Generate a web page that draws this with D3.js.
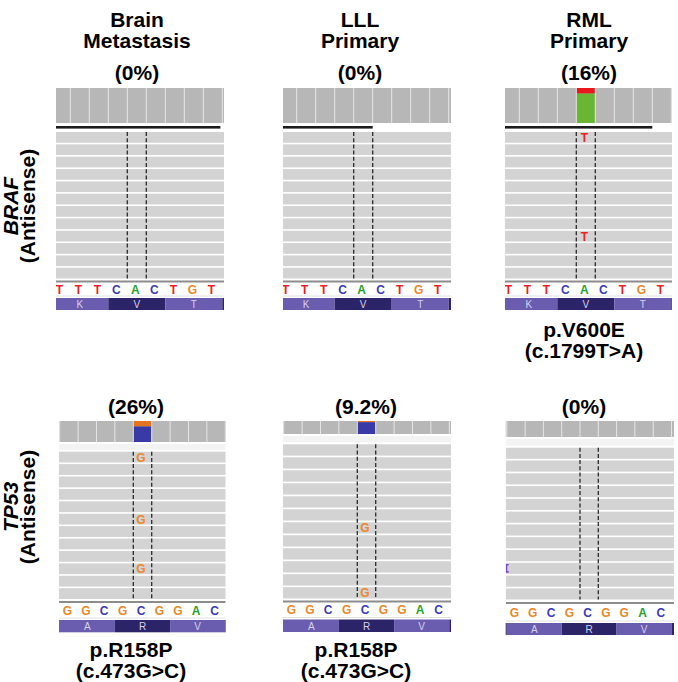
<!DOCTYPE html>
<html>
<head>
<meta charset="utf-8">
<script src="https://cdn.jsdelivr.net/npm/d3@7"></script>
<style>
  html, body { margin: 0; padding: 0; background: #fff; }
  svg { display: block; }
  text { font-family: "Liberation Sans", Arial, Helvetica, sans-serif; }
</style>
</head>
<body>
<svg id="chart" width="678" height="682"></svg>
<script>
// ---------------- DATA ----------------
const headerLines = [["Brain", "Metastasis"], ["LLL", "Primary"], ["RML", "Primary"]];
const genes = ["BRAF", "TP53"];
const strandLabel = "(Antisense)";

const brafRef = ["T", "T", "T", "C", "A", "C", "T", "G", "T"];
const tp53Ref = ["G", "G", "C", "G", "C", "G", "G", "A", "C"];
const brafCodons = ["K", "V", "T"];
const tp53Codons = ["A", "R", "V"];

const variantIndex = 4;              // reference base at the variant site
const brafRefBase = "A", brafAltBase = "T";
const tp53RefBase = "C", tp53AltBase = "G";

const brafAltFrac = [0, 0, 0.16];
const brafAFLabels = ["(0%)", "(0%)", "(16%)"];
const tp53AltFrac = [0.26, 0.092, 0];
const tp53AFLabels = ["(26%)", "(9.2%)", "(0%)"];

const brafDepth = [1, 1, 1];          // relative coverage
const tp53Depth = [1, 0.62, 0.76];

const brafDownsampleEnd = [8.9, 5.0, 8.0];   // in base units
const readCount = 12;
const brafMismatchRows = [[], [], [0, 8]];
const tp53MismatchRows = [[0, 5, 9], [6, 11], []];
const tp53InsertionRows = [[], [], [9]];

const brafProtein = [null, null, ["p.V600E", "(c.1799T>A)"]];
const tp53Protein = [["p.R158P", "(c.473G>C)"], ["p.R158P", "(c.473G>C)"], null];

// ---------------- STYLE / LAYOUT ----------------
const baseColor = { A: "#25a32a", C: "#3b3bb8", G: "#e8882a", T: "#ec2024" };
const covColor = { A: "#6bb534", C: "#3a3aa6", G: "#e3731f", T: "#e8181c" };
const covGrey = "#b7b7b7", readGrey = "#d3d3d3";
const aaLight = "#6a5cae", aaDark = "#2b2468";

const panelX = {
  BRAF: [
    { clipL: 56, clipR: 224, x0: 51.3, w: 19 },
    { clipL: 283, clipR: 451, x0: 277.7, w: 19 },
    { clipL: 505, clipR: 672, x0: 500.3, w: 19 }
  ],
  TP53: [
    { clipL: 59, clipR: 225.7, x0: 59.7, w: 18.4 },
    { clipL: 283, clipR: 451, x0: 283.7, w: 18.4 },
    { clipL: 505.7, clipR: 674, x0: 506.8, w: 18.3 }
  ]
};
const panelY = {
  BRAF: [0, 1, 2].map(() => ({ covTop: 88, covH: 35, barY: 126, readsTop: 132, readsBot: 278.5, lineY: 281.5, seqY: 290, aaTop: 298, aaH: 12 })),
  TP53: [
    { covTop: 421, covH: 21, readsTop: 451.7, readsBot: 599, lineY: 602, seqY: 611, aaTop: 620, aaH: 12.3 },
    { covTop: 421, covH: 21, readsTop: 444.3, readsBot: 598.5, lineY: 601.5, seqY: 610, aaTop: 619.5, aaH: 12.5 },
    { covTop: 421, covH: 21, readsTop: 447.7, readsBot: 599.5, lineY: 603, seqY: 613, aaTop: 623, aaH: 12 }
  ]
};

const svg = d3.select("#chart");
const defs = svg.append("defs");

const geneData = {
  BRAF: { ref: brafRef, codons: brafCodons, refBase: brafRefBase, altBase: brafAltBase, altFrac: brafAltFrac,
          afLabels: brafAFLabels, depth: brafDepth, downs: brafDownsampleEnd, mism: brafMismatchRows,
          ins: [[], [], []], protein: brafProtein },
  TP53: { ref: tp53Ref, codons: tp53Codons, refBase: tp53RefBase, altBase: tp53AltBase, altFrac: tp53AltFrac,
          afLabels: tp53AFLabels, depth: tp53Depth, downs: null, mism: tp53MismatchRows,
          ins: tp53InsertionRows, protein: tp53Protein }
};

const afLabelX = { BRAF: [137, 360, 589], TP53: [136, 366, 584] };
const afLabelY = { BRAF: 80, TP53: 414 };
const protX = { BRAF: [137, 360, 584], TP53: [131, 356, 584] };
const protY = { BRAF: 337, TP53: 657 };

// Column headers
const headerX = [137, 360, 589];
headerLines.forEach((lines, i) => {
  const t = svg.append("text").attr("x", headerX[i]).attr("y", 27)
    .attr("text-anchor", "middle").attr("font-size", 21).attr("font-weight", "bold").attr("fill", "#000");
  lines.forEach((l, j) => t.append("tspan").attr("x", headerX[i]).attr("dy", j === 0 ? 0 : 20.5).text(l));
});

// Row labels
const rowLabelCY = { BRAF: 206, TP53: 507 };
genes.forEach(g => {
  const cy = rowLabelCY[g];
  svg.append("text").attr("transform", `translate(18,${cy}) rotate(-90)`)
    .attr("text-anchor", "middle").attr("font-size", 21).attr("font-weight", "bold")
    .attr("font-style", "italic").text(g);
  svg.append("text").attr("transform", `translate(34.5,${cy}) rotate(-90)`)
    .attr("text-anchor", "middle").attr("font-size", 21).attr("font-weight", "bold").text(strandLabel);
});

genes.forEach(g => {
  const D = geneData[g];
  [0, 1, 2].forEach(p => {
    const PX = panelX[g][p], PY = panelY[g][p];
    const x = d3.scaleLinear().domain([0, 9]).range([PX.x0, PX.x0 + 9 * PX.w]);
    const clipId = `clip-${g}-${p}`;
    defs.append("clipPath").attr("id", clipId).append("rect")
      .attr("x", PX.clipL).attr("y", 0).attr("width", PX.clipR - PX.clipL).attr("height", 682);
    const G = svg.append("g").attr("clip-path", `url(#${clipId})`);

    // AF label
    svg.append("text").attr("x", afLabelX[g][p]).attr("y", afLabelY[g])
      .attr("text-anchor", "middle").attr("font-size", 21).attr("font-weight", "bold").text(D.afLabels[p]);

    // Coverage track
    const covScale = d3.scaleLinear().domain([0, 1]).range([0, PY.covH]);
    const ch = covScale(D.depth[p]);
    const cols = d3.range(-1, 10);
    G.selectAll("rect.cov").data(cols).join("rect")
      .attr("x", k => x(k)).attr("width", PX.w).attr("y", PY.covTop).attr("height", ch)
      .attr("fill", covGrey);
    if (D.altFrac[p] > 0) {
      const altH = ch * D.altFrac[p];
      G.append("rect").attr("x", x(variantIndex)).attr("width", PX.w).attr("y", PY.covTop)
        .attr("height", altH).attr("fill", covColor[D.altBase]);
      G.append("rect").attr("x", x(variantIndex)).attr("width", PX.w).attr("y", PY.covTop + altH)
        .attr("height", ch - altH).attr("fill", covColor[D.refBase]);
    }
    G.selectAll("line.sep").data(cols).join("line")
      .attr("x1", k => x(k)).attr("x2", k => x(k)).attr("y1", PY.covTop).attr("y2", PY.covTop + ch)
      .attr("stroke", "#e4e4e4").attr("stroke-width", 1);

    // downsampling bar
    if (D.downs) {
      G.append("rect").attr("x", PX.clipL).attr("y", PY.barY)
        .attr("width", x(D.downs[p]) - PX.clipL).attr("height", 2.6).attr("fill", "#1c1c1c");
    } else {
      G.append("rect").attr("x", PX.clipL).attr("y", PY.covTop + ch + 2)
        .attr("width", PX.clipR - PX.clipL).attr("height", PY.readsTop - (PY.covTop + ch) - 4)
        .attr("fill", "#f3f3f3");
    }

    // reads
    const yr = d3.scaleBand().domain(d3.range(readCount)).range([PY.readsTop, PY.readsBot]).paddingInner(0.13);
    G.selectAll("rect.read").data(d3.range(readCount)).join("rect")
      .attr("x", PX.clipL).attr("width", PX.clipR - PX.clipL)
      .attr("y", r => yr(r)).attr("height", yr.bandwidth()).attr("fill", readGrey);

    // dashed center guides
    [variantIndex, variantIndex + 1].forEach(k => {
      G.append("line").attr("x1", x(k)).attr("x2", x(k))
        .attr("y1", PY.readsTop).attr("y2", PY.readsBot)
        .attr("stroke", "#2a2a2a").attr("stroke-width", 1.3).attr("stroke-dasharray", "4,2.2");
    });

    // mismatches
    G.selectAll("text.mm").data(D.mism[p]).join("text")
      .attr("x", x(variantIndex + 0.5) - 1.5).attr("y", r => yr(r) + yr.bandwidth() / 2 + 0.5)
      .attr("text-anchor", "middle").attr("dominant-baseline", "central")
      .attr("font-size", 12).attr("font-weight", "bold").attr("fill", baseColor[D.altBase])
      .text(D.altBase);

    // insertion markers
    D.ins[p].forEach(r => {
      const y0 = yr(r) + 2, y1 = yr(r) + yr.bandwidth() - 2;
      G.append("path")
        .attr("d", `M${PX.clipL + 3},${y0} L${PX.clipL + 0.8},${y0} L${PX.clipL + 0.8},${y1} L${PX.clipL + 3},${y1}`)
        .attr("fill", "none").attr("stroke", "#7a4cc4").attr("stroke-width", 1.6);
    });

    // separator line under reads
    G.append("rect").attr("x", PX.clipL).attr("width", PX.clipR - PX.clipL)
      .attr("y", PY.lineY - 1).attr("height", 2).attr("fill", "#8c8c8c");
    G.append("rect").attr("x", PX.clipL).attr("width", PX.clipR - PX.clipL)
      .attr("y", PY.aaTop - 2.5).attr("height", 1).attr("fill", "#e2e2e2");

    // reference sequence
    G.selectAll("text.seq").data(D.ref).join("text")
      .attr("x", (b, i) => x(i + 0.5) - 1.5).attr("y", PY.seqY)
      .attr("text-anchor", "middle").attr("dominant-baseline", "central")
      .attr("font-size", 12).attr("font-weight", "bold").attr("fill", b => baseColor[b]).text(b => b);

    // amino-acid track
    const codonIdx = d3.range(-1, 5);
    G.selectAll("rect.aa").data(codonIdx).join("rect")
      .attr("x", c => x(3 * c)).attr("width", 3 * PX.w).attr("y", PY.aaTop).attr("height", PY.aaH)
      .attr("fill", c => (Math.abs(c) % 2 === 0 ? aaLight : aaDark));
    G.selectAll("text.aa").data(D.codons).join("text")
      .attr("x", (c, i) => x(3 * i + 1.5)).attr("y", PY.aaTop + PY.aaH / 2 + 0.5)
      .attr("text-anchor", "middle").attr("dominant-baseline", "central")
      .attr("font-size", 10).attr("fill", "#d6d0ee").text(c => c);

    // protein label
    if (D.protein[p]) {
      const t = svg.append("text").attr("x", protX[g][p]).attr("y", protY[g])
        .attr("text-anchor", "middle").attr("font-size", 21).attr("font-weight", "bold");
      D.protein[p].forEach((l, j) => t.append("tspan").attr("x", protX[g][p]).attr("dy", j === 0 ? 0 : 20.5).text(l));
    }
  });
});
</script>
</body>
</html>
